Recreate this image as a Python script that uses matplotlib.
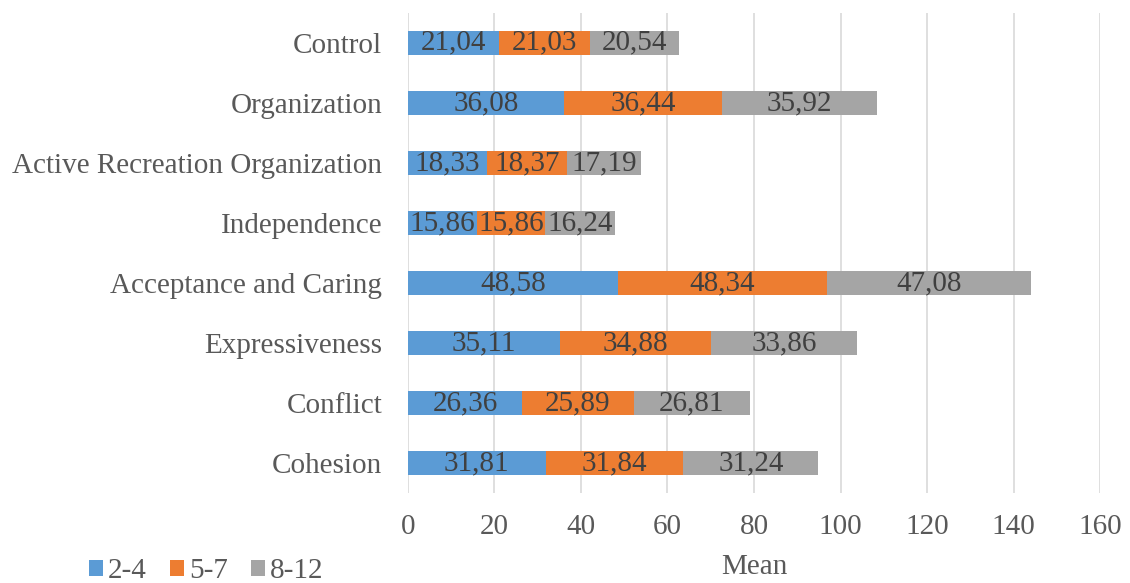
import numpy as np
import matplotlib.pyplot as plt

plt.rcParams['font.family'] = ['Liberation Serif', 'DejaVu Serif']

# Data (bottom to top as drawn)
categories = ["Cohesion", "Conflict", "Expressiveness", "Acceptance and Caring",
              "Independence", "Active Recreation Organization", "Organization", "Control"]
age_2_4 = [31.81, 26.36, 35.11, 48.58, 15.86, 18.33, 36.08, 21.04]
age_5_7 = [31.84, 25.89, 34.88, 48.34, 15.86, 18.37, 36.44, 21.03]
age_8_12 = [31.24, 26.81, 33.86, 47.08, 16.24, 17.19, 35.92, 20.54]
series_names = ["2-4", "5-7", "8-12"]
colors = ["#5b9bd5", "#ed7d31", "#a5a5a5"]
text_color = "#595959"
fs = 21

fig = plt.figure(figsize=(11.3, 5.83), dpi=100)
ax = fig.add_axes([0.361, 0.154, 0.6125, 0.824])

y = np.arange(len(categories))
left = np.zeros(len(categories))
for name, vals, c in zip(series_names, [age_2_4, age_5_7, age_8_12], colors):
    vals = np.array(vals)
    bars = ax.barh(y, vals, left=left, height=0.4, color=c, label=name, zorder=3)
    for b, v in zip(bars, vals):
        ax.text(b.get_x() + b.get_width() / 2, b.get_y() + b.get_height() / 2,
                f"{v:.2f}".replace(".", ","), ha="center", va="center",
                fontsize=fs, color="#404040", zorder=4)
    left += vals

ax.set_xlim(0, 160)
ax.set_ylim(-0.5, len(categories) - 0.5)
ax.set_xticks(np.arange(0, 161, 20))
ax.set_yticks(y)
ax.set_yticklabels(categories)
ax.grid(axis="x", color="#d9d9d9", linewidth=1.2, zorder=0)
for s in ax.spines.values():
    s.set_visible(False)
ax.tick_params(axis="both", length=0, labelsize=fs, colors=text_color)
ax.tick_params(axis="x", pad=15)
ax.tick_params(axis="y", pad=18.5)
ax.set_xlabel("Mean", fontsize=fs, color=text_color, labelpad=10)

fig.legend(loc="center left", bbox_to_anchor=(89 / 1130, 0.02), ncol=3, frameon=False,
           fontsize=fs, labelcolor=text_color, handlelength=0.48, handleheight=0.48,
           handletextpad=0.17, columnspacing=0.8, borderpad=0, borderaxespad=0)

fig.savefig("out.png", dpi=100)
